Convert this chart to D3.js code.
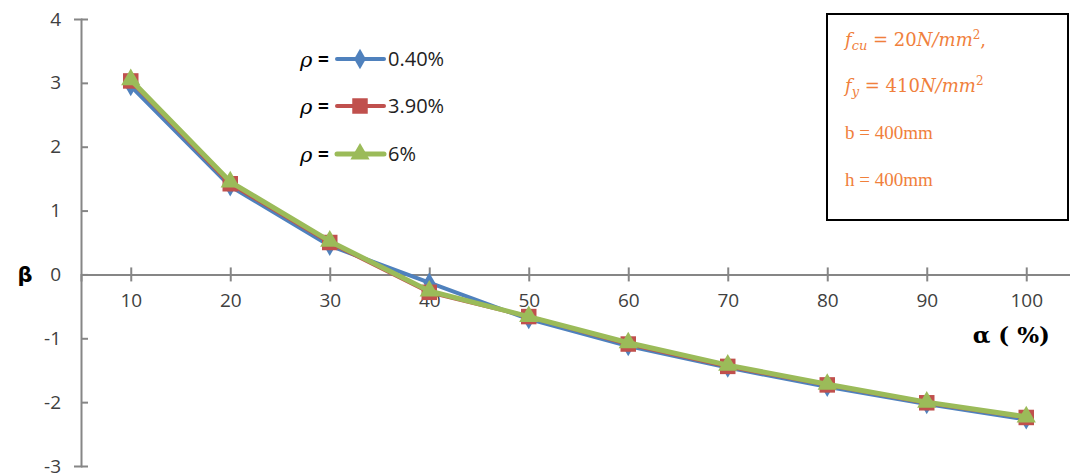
<!DOCTYPE html>
<html>
<head>
<meta charset="utf-8">
<script src="https://d3js.org/d3.v7.min.js"></script>
<style>
  body { margin: 0; background: #fff; }
</style>
</head>
<body>
<script>
// categories (alpha %)
var alphas = [10, 20, 30, 40, 50, 60, 70, 80, 90, 100];
// beta values for each reinforcement ratio
var rho040 = [2.95, 1.38, 0.45, -0.13, -0.70, -1.12, -1.46, -1.76, -2.03, -2.27];
var rho390 = [3.03, 1.42, 0.50, -0.28, -0.66, -1.09, -1.44, -1.73, -2.01, -2.24];
var rho600 = [3.05, 1.45, 0.52, -0.26, -0.66, -1.07, -1.42, -1.72, -2.00, -2.23];
var seriesNames = ["0.40%", "3.90%", "6%"];
var yTicks = [4, 3, 2, 1, 0, -1, -2, -3];

var width = 1070, height = 475;
var sans = "'Open Sans', 'Liberation Sans', sans-serif";
var serif = "'DejaVu Serif', serif";

var svg = d3.select("body").append("svg")
    .attr("width", width)
    .attr("height", height)
    .style("font-family", sans);

var x = d3.scalePoint().domain(alphas).range([81, 1076]).padding(0.5);
var y = d3.scaleLinear().domain([-3, 4]).range([466, 19]);

var axisColor = "#868686";

// y axis
var yAxis = svg.append("g")
    .attr("transform", "translate(81,0)")
    .call(d3.axisLeft(y).tickValues(yTicks).tickSize(7).tickPadding(13)
      .tickFormat(function(d) { return String(d); }));
yAxis.select(".domain").attr("stroke", axisColor).attr("stroke-width", 2);
yAxis.selectAll(".tick line").attr("x2", 7).attr("stroke", axisColor).attr("stroke-width", 2);
yAxis.selectAll(".tick text").attr("fill", "#404040")
    .style("font-size", "19px").style("font-family", sans);

// x axis on the zero line
var xAxis = svg.append("g")
    .attr("transform", "translate(0," + y(0) + ")")
    .call(d3.axisBottom(x).tickSize(7).tickPadding(12));
xAxis.select(".domain").attr("stroke", axisColor).attr("stroke-width", 2);
xAxis.selectAll(".tick line").attr("y1", -7).attr("stroke", axisColor).attr("stroke-width", 2);
xAxis.selectAll(".tick text").attr("fill", "#404040")
    .style("font-size", "19px").style("font-family", sans);

// axis titles
svg.append("text").attr("x", 25).attr("y", 282)
    .attr("text-anchor", "middle")
    .style("font-size", "21px").style("font-weight", "bold")
    .style("font-family", "'DejaVu Sans', sans-serif")
    .text("β");
svg.append("text").attr("x", 1050).attr("y", 343)
    .attr("text-anchor", "end")
    .style("font-size", "23px").style("font-weight", "bold")
    .style("font-family", serif)
    .text("α ( %)");

var colors = ["#4F81BD", "#C0504D", "#9BBB59"];
var data = [rho040, rho390, rho600];
var shapes = [d3.symbolDiamond, d3.symbolSquare, d3.symbolTriangle];
var sizes = [120, 240, 160];

var line = d3.line()
    .x(function(d, i) { return x(alphas[i]); })
    .y(function(d) { return y(d); });

data.forEach(function(vals, s) {
  var g = svg.append("g");
  g.append("path")
    .datum(vals)
    .attr("d", line)
    .attr("fill", "none")
    .attr("stroke", colors[s])
    .attr("stroke-width", s == 2 ? 5 : 4)
    .attr("stroke-linejoin", "round");
  g.selectAll("path.m")
    .data(vals)
    .enter().append("path")
    .attr("class", "m")
    .attr("d", d3.symbol().type(shapes[s]).size(sizes[s]))
    .attr("transform", function(d, i) { return "translate(" + x(alphas[i]) + "," + y(d) + ")"; })
    .attr("fill", colors[s]);
});

// legend
var legY = [59, 106, 154];
seriesNames.forEach(function(name, s) {
  var lg = svg.append("g").attr("transform", "translate(0," + legY[s] + ")");
  lg.append("text").attr("x", 300).attr("y", 8)
    .style("font-size", "21px")
    .style("font-family", serif).style("font-style", "italic")
    .text("ρ");
  lg.append("text").attr("x", 318).attr("y", 7)
    .style("font-size", "19px").style("font-weight", "bold")
    .text("=");
  lg.append("line").attr("x1", 337).attr("x2", 384).attr("y1", 0).attr("y2", 0)
    .attr("stroke", colors[s]).attr("stroke-width", s == 2 ? 5 : 4).attr("stroke-linecap", "round");
  lg.append("path")
    .attr("d", d3.symbol().type(shapes[s]).size(sizes[s]))
    .attr("transform", "translate(360,0)")
    .attr("fill", colors[s]);
  lg.append("text").attr("x", 388).attr("y", 7)
    .style("font-size", "20px").attr("fill", "#222")
    .text(name);
});

// parameter box
svg.append("rect").attr("x", 827).attr("y", 14).attr("width", 241).attr("height", 206)
  .attr("fill", "none").attr("stroke", "#000").attr("stroke-width", 2);
var orange = "#F0803C";
var box = svg.append("g").attr("fill", orange);
var t1 = box.append("text").attr("x", 845).attr("y", 46)
  .style("font-size", "18px").style("font-family", serif);
t1.append("tspan").style("font-style", "italic").text("f");
t1.append("tspan").style("font-style", "italic").style("font-size", "13px").attr("dy", 4).text("cu");
t1.append("tspan").attr("dy", -4).text(" = 20");
t1.append("tspan").style("font-style", "italic").text("N/mm");
t1.append("tspan").style("font-size", "12px").attr("dy", -7).text("2");
t1.append("tspan").attr("dy", 7).text(",");
var t2 = box.append("text").attr("x", 845).attr("y", 92)
  .style("font-size", "18px").style("font-family", serif);
t2.append("tspan").style("font-style", "italic").text("f");
t2.append("tspan").style("font-style", "italic").style("font-size", "13px").attr("dy", 4).text("y");
t2.append("tspan").attr("dy", -4).text(" = 410");
t2.append("tspan").style("font-style", "italic").text("N/mm");
t2.append("tspan").style("font-size", "12px").attr("dy", -7).text("2");
box.append("text").attr("x", 845).attr("y", 139).style("font-size", "19px")
  .style("font-family", "'Liberation Serif', serif").text("b = 400mm");
box.append("text").attr("x", 845).attr("y", 186).style("font-size", "19px")
  .style("font-family", "'Liberation Serif', serif").text("h = 400mm");
</script>
</body>
</html>
